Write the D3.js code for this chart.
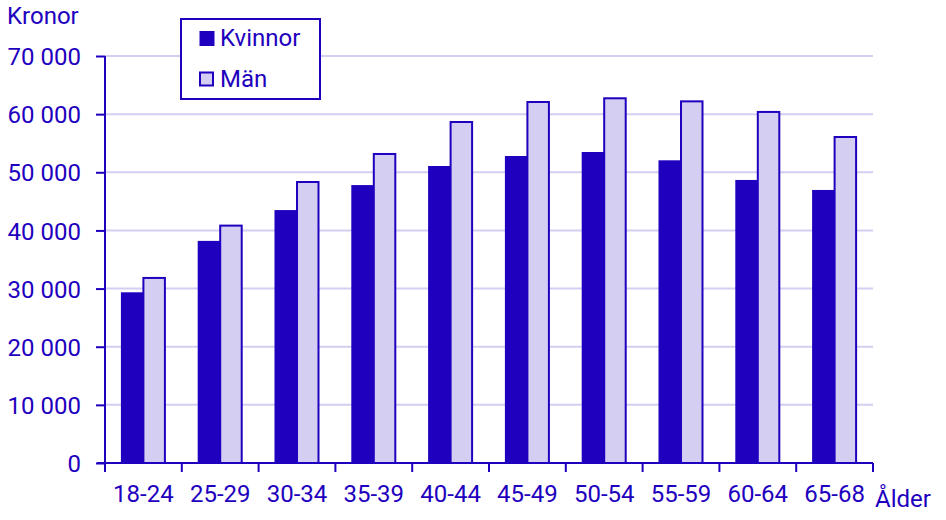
<!DOCTYPE html>
<html><head><meta charset="utf-8">
<script src="https://cdn.jsdelivr.net/npm/d3@7"></script>
<style>body{margin:0;background:#fff}svg text{font-family:Roboto,sans-serif;fill:#1e00be}</style>
</head><body><svg id="c" width="946" height="520"></svg>
<script>
const categories = ["18-24","25-29","30-34","35-39","40-44","45-49","50-54","55-59","60-64","65-68"];
const kvinnor = [29360,38200,43500,47800,51080,52800,53490,52060,48680,46960];
const man     = [32000,41000,48500,53320,58820,62260,62900,62370,60550,56240];
const seriesNames = ["Kvinnor","Män"];
const yTicks = [0,10000,20000,30000,40000,50000,60000,70000];

const dark="#1e00be", light="#d3cef2", grid="#d3cef2";
const FS="24px";
const svg=d3.select("#c");
const x=d3.scaleBand().domain(categories).range([105,873]).paddingInner(0.414).paddingOuter(0.207);
const xs=d3.scaleBand().domain(seriesNames).range([0,x.bandwidth()]);
const y=d3.scaleLinear().domain([0,70000]).range([463,56]);
const fmt=v=>d3.format(",")(v).replace(/,/g," ");

svg.append("g").selectAll("line").data(yTicks.filter(d=>d>0)).join("line")
  .attr("x1",105).attr("x2",873).attr("y1",d=>y(d)).attr("y2",d=>y(d))
  .attr("stroke",grid).attr("stroke-width",2);

const data=categories.map((c,i)=>({c,vals:[{s:"Kvinnor",v:kvinnor[i]},{s:"Män",v:man[i]}]}));
const g=svg.append("g").selectAll("g").data(data).join("g").attr("transform",d=>`translate(${x(d.c)},0)`);
g.selectAll("rect.k").data(d=>[d.vals[0]]).join("rect")
  .attr("x",d=>xs(d.s)).attr("width",xs.bandwidth()).attr("y",d=>y(d.v)).attr("height",d=>y(0)-y(d.v))
  .attr("fill",dark);
g.selectAll("rect.m").data(d=>[d.vals[1]]).join("rect")
  .attr("x",d=>xs(d.s)).attr("width",xs.bandwidth()-1).attr("y",d=>y(d.v)+1).attr("height",d=>y(0)-y(d.v)-1)
  .attr("fill",light).attr("stroke",dark).attr("stroke-width",2);

// axes
const ya=svg.append("g").attr("transform","translate(105,0)")
  .call(d3.axisLeft(y).tickValues(yTicks).tickFormat(fmt).tickSize(9).tickPadding(15));
ya.selectAll("text").style("font-size",FS).attr("dy","0.36em");
const xa=svg.append("g").attr("transform","translate(0,463)")
  .call(d3.axisBottom(x).tickSize(0).tickPadding(22));
xa.selectAll("text").style("font-size",FS);
// boundary ticks
const bounds=categories.map(c=>x(c)-x.step()*0.207).concat([873]);
svg.append("g").selectAll("line").data(bounds).join("line")
  .attr("x1",d=>d).attr("x2",d=>d).attr("y1",463).attr("y2",472).attr("stroke",dark).attr("stroke-width",2);
[ya,xa].forEach(a=>{a.select(".domain").attr("stroke",dark).attr("stroke-width",2);a.selectAll(".tick line").attr("stroke",dark).attr("stroke-width",2);});
ya.select(".domain").attr("d","M0,463V56");
xa.select(".domain").attr("d","M97,0H873");

svg.append("text").attr("x",7).attr("y",24).style("font-size",FS).text("Kronor");
svg.append("text").attr("x",875).attr("y",507).style("font-size",FS).text("Ålder");

// legend
const lg=svg.append("g");
lg.append("rect").attr("x",181).attr("y",19).attr("width",139).attr("height",80).attr("fill","#fff").attr("stroke",dark).attr("stroke-width",2);
const cols=[dark,light];
seriesNames.forEach((s,i)=>{
  lg.append("rect").attr("x",i?200:199.5).attr("y",i?72.5:31).attr("width",i?13:15).attr("height",i?13:15)
    .attr("fill",cols[i]).attr("stroke",i?dark:"none").attr("stroke-width",2);
  lg.append("text").attr("x",220).attr("y",i?87:46).style("font-size",FS).text(s);
});
</script></body></html>
